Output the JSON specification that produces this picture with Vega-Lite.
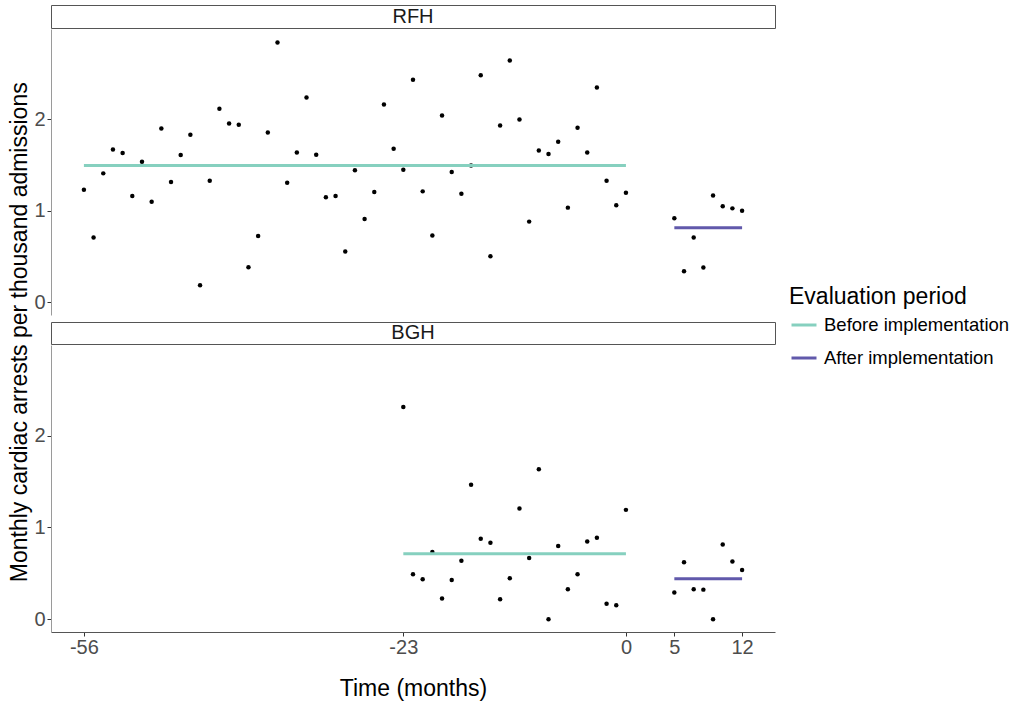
{
  "$schema": "https://vega.github.io/schema/vega-lite/v6.json",
  "padding": {"left": 8, "top": 4, "right": 5, "bottom": 5},
  "background": "white",
  "title": {"text": "Monthly cardiac arrests per thousand admissions", "orient": "left", "anchor": "middle", "frame": "bounds", "fontSize": 23, "fontWeight": "normal", "color": "black", "font": "Liberation Sans", "offset": 2, "dx": 20},
  "config": {
    "font": "Liberation Sans",
    "view": {"stroke": null},
    "axis": {"grid": false, "labelFont": "Liberation Sans", "titleFont": "Liberation Sans", "titleFontWeight": "normal", "titleColor": "black", "labelColor": "#4d4d4d", "tickColor": "#333333", "tickSize": 4, "labelFontSize": 20}
  },
  "datasets": {
    "points": [
      {"hospital": "RFH", "month": -56, "rate": 1.231},
      {"hospital": "RFH", "month": -55, "rate": 0.707},
      {"hospital": "RFH", "month": -54, "rate": 1.41},
      {"hospital": "RFH", "month": -53, "rate": 1.672},
      {"hospital": "RFH", "month": -52, "rate": 1.632},
      {"hospital": "RFH", "month": -51, "rate": 1.162},
      {"hospital": "RFH", "month": -50, "rate": 1.537},
      {"hospital": "RFH", "month": -49, "rate": 1.1},
      {"hospital": "RFH", "month": -48, "rate": 1.902},
      {"hospital": "RFH", "month": -47, "rate": 1.315},
      {"hospital": "RFH", "month": -46, "rate": 1.61},
      {"hospital": "RFH", "month": -45, "rate": 1.832},
      {"hospital": "RFH", "month": -44, "rate": 0.186},
      {"hospital": "RFH", "month": -43, "rate": 1.33},
      {"hospital": "RFH", "month": -42, "rate": 2.117},
      {"hospital": "RFH", "month": -41, "rate": 1.956},
      {"hospital": "RFH", "month": -40, "rate": 1.942},
      {"hospital": "RFH", "month": -39, "rate": 0.383},
      {"hospital": "RFH", "month": -38, "rate": 0.725},
      {"hospital": "RFH", "month": -37, "rate": 1.858},
      {"hospital": "RFH", "month": -36, "rate": 2.842},
      {"hospital": "RFH", "month": -35, "rate": 1.308},
      {"hospital": "RFH", "month": -34, "rate": 1.639},
      {"hospital": "RFH", "month": -33, "rate": 2.24},
      {"hospital": "RFH", "month": -32, "rate": 1.614},
      {"hospital": "RFH", "month": -31, "rate": 1.148},
      {"hospital": "RFH", "month": -30, "rate": 1.162},
      {"hospital": "RFH", "month": -29, "rate": 0.554},
      {"hospital": "RFH", "month": -28, "rate": 1.443},
      {"hospital": "RFH", "month": -27, "rate": 0.911},
      {"hospital": "RFH", "month": -26, "rate": 1.206},
      {"hospital": "RFH", "month": -25, "rate": 2.164},
      {"hospital": "RFH", "month": -24, "rate": 1.679},
      {"hospital": "RFH", "month": -23, "rate": 1.45},
      {"hospital": "RFH", "month": -22, "rate": 2.434},
      {"hospital": "RFH", "month": -21, "rate": 1.213},
      {"hospital": "RFH", "month": -20, "rate": 0.729},
      {"hospital": "RFH", "month": -19, "rate": 2.044},
      {"hospital": "RFH", "month": -18, "rate": 1.424},
      {"hospital": "RFH", "month": -17, "rate": 1.188},
      {"hospital": "RFH", "month": -16, "rate": 1.497},
      {"hospital": "RFH", "month": -15, "rate": 2.485},
      {"hospital": "RFH", "month": -14, "rate": 0.503},
      {"hospital": "RFH", "month": -13, "rate": 1.934},
      {"hospital": "RFH", "month": -12, "rate": 2.645},
      {"hospital": "RFH", "month": -11, "rate": 2.0},
      {"hospital": "RFH", "month": -10, "rate": 0.882},
      {"hospital": "RFH", "month": -9, "rate": 1.661},
      {"hospital": "RFH", "month": -8, "rate": 1.621},
      {"hospital": "RFH", "month": -7, "rate": 1.756},
      {"hospital": "RFH", "month": -6, "rate": 1.035},
      {"hospital": "RFH", "month": -5, "rate": 1.909},
      {"hospital": "RFH", "month": -4, "rate": 1.639},
      {"hospital": "RFH", "month": -3, "rate": 2.35},
      {"hospital": "RFH", "month": -2, "rate": 1.33},
      {"hospital": "RFH", "month": -1, "rate": 1.06},
      {"hospital": "RFH", "month": 0, "rate": 1.199},
      {"hospital": "RFH", "month": 5, "rate": 0.918},
      {"hospital": "RFH", "month": 6, "rate": 0.339},
      {"hospital": "RFH", "month": 7, "rate": 0.707},
      {"hospital": "RFH", "month": 8, "rate": 0.379},
      {"hospital": "RFH", "month": 9, "rate": 1.169},
      {"hospital": "RFH", "month": 10, "rate": 1.049},
      {"hospital": "RFH", "month": 11, "rate": 1.027},
      {"hospital": "RFH", "month": 12, "rate": 1.002},
      {"hospital": "BGH", "month": -23, "rate": 2.315},
      {"hospital": "BGH", "month": -22, "rate": 0.489},
      {"hospital": "BGH", "month": -21, "rate": 0.435},
      {"hospital": "BGH", "month": -20, "rate": 0.732},
      {"hospital": "BGH", "month": -19, "rate": 0.225},
      {"hospital": "BGH", "month": -18, "rate": 0.428},
      {"hospital": "BGH", "month": -17, "rate": 0.638},
      {"hospital": "BGH", "month": -16, "rate": 1.467},
      {"hospital": "BGH", "month": -15, "rate": 0.877},
      {"hospital": "BGH", "month": -14, "rate": 0.833},
      {"hospital": "BGH", "month": -13, "rate": 0.217},
      {"hospital": "BGH", "month": -12, "rate": 0.446},
      {"hospital": "BGH", "month": -11, "rate": 1.207},
      {"hospital": "BGH", "month": -10, "rate": 0.667},
      {"hospital": "BGH", "month": -9, "rate": 1.634},
      {"hospital": "BGH", "month": -8, "rate": 0.0},
      {"hospital": "BGH", "month": -7, "rate": 0.797},
      {"hospital": "BGH", "month": -6, "rate": 0.326},
      {"hospital": "BGH", "month": -5, "rate": 0.489},
      {"hospital": "BGH", "month": -4, "rate": 0.848},
      {"hospital": "BGH", "month": -3, "rate": 0.888},
      {"hospital": "BGH", "month": -2, "rate": 0.167},
      {"hospital": "BGH", "month": -1, "rate": 0.152},
      {"hospital": "BGH", "month": 0, "rate": 1.192},
      {"hospital": "BGH", "month": 5, "rate": 0.29},
      {"hospital": "BGH", "month": 6, "rate": 0.62},
      {"hospital": "BGH", "month": 7, "rate": 0.326},
      {"hospital": "BGH", "month": 8, "rate": 0.322},
      {"hospital": "BGH", "month": 9, "rate": 0.0},
      {"hospital": "BGH", "month": 10, "rate": 0.815},
      {"hospital": "BGH", "month": 11, "rate": 0.63},
      {"hospital": "BGH", "month": 12, "rate": 0.536}
    ],
    "means": [
      {"hospital": "RFH", "period": "Before implementation", "start": -56, "end": 0, "mean": 1.497},
      {"hospital": "RFH", "period": "After implementation", "start": 5, "end": 12, "mean": 0.816},
      {"hospital": "BGH", "period": "Before implementation", "start": -23, "end": 0, "mean": 0.714},
      {"hospital": "BGH", "period": "After implementation", "start": 5, "end": 12, "mean": 0.442}
    ],
    "strips": [
      {"hospital": "RFH"},
      {"hospital": "BGH"}
    ]
  },
  "spacing": 6,
  "vconcat": [
    {
      "spacing": 0,
      "vconcat": [
        {
          "width": 724,
          "height": 23,
          "view": {"stroke": "#555555", "strokeWidth": 1, "fill": "white"},
          "data": {"name": "strips"},
          "transform": [{"filter": "datum.hospital === 'RFH'"}],
          "mark": {"type": "text", "fontSize": 20, "color": "#1a1a1a", "align": "center", "baseline": "middle"},
          "encoding": {
            "x": {"field": "hospital", "type": "nominal", "axis": null},
            "y": {"field": "hospital", "type": "nominal", "axis": null},
            "text": {"field": "hospital"}
          }
        },
        {
          "width": 724,
          "height": 286,
          "layer": [
            {
              "data": {"name": "points"},
              "transform": [{"filter": "datum.hospital === 'RFH'"}],
              "mark": {"type": "circle", "size": 20, "color": "black", "opacity": 1},
              "encoding": {
                "x": {"field": "month", "type": "quantitative", "scale": {"domain": [-59.4, 15.4], "nice": false, "zero": false}, "axis": null},
                "y": {"field": "rate", "type": "quantitative", "scale": {"domain": [-0.14, 2.99], "nice": false, "zero": false}, "axis": {"values": [0, 1, 2], "format": "d", "title": null, "labelPadding": 2, "domainColor": "#9a9a9a"}}
              }
            },
            {
              "data": {"name": "means"},
              "transform": [{"filter": "datum.hospital === 'RFH'"}],
              "mark": {"type": "rule", "strokeWidth": 3},
              "encoding": {
                "x": {"field": "start", "type": "quantitative"},
                "x2": {"field": "end"},
                "y": {"field": "mean", "type": "quantitative"},
                "color": {"field": "period", "type": "nominal", "scale": {"domain": ["Before implementation", "After implementation"], "range": ["#86d0bf", "#6159ab"]}, "legend": {"title": "Evaluation period", "orient": "none", "legendX": 738, "legendY": 281, "titleFontSize": 23, "titleFontWeight": "normal", "titleColor": "black", "titlePadding": 2, "labelFontSize": 18.5, "labelColor": "black", "labelLimit": 400, "symbolType": "stroke", "symbolStrokeWidth": 3, "symbolSize": 625, "symbolOffset": 1, "labelOffset": 6, "rowPadding": 9, "padding": 0}}
              }
            }
          ]
        }
      ]
    },
    {
      "spacing": 0,
      "vconcat": [
        {
          "width": 724,
          "height": 22,
          "view": {"stroke": "#555555", "strokeWidth": 1, "fill": "white"},
          "data": {"name": "strips"},
          "transform": [{"filter": "datum.hospital === 'BGH'"}],
          "mark": {"type": "text", "fontSize": 20, "color": "#1a1a1a", "align": "center", "baseline": "middle"},
          "encoding": {
            "x": {"field": "hospital", "type": "nominal", "axis": null},
            "y": {"field": "hospital", "type": "nominal", "axis": null},
            "text": {"field": "hospital"}
          }
        },
        {
          "width": 724,
          "height": 287,
          "layer": [
            {
              "data": {"name": "points"},
              "transform": [{"filter": "datum.hospital === 'BGH'"}],
              "mark": {"type": "circle", "size": 20, "color": "black", "opacity": 1},
              "encoding": {
                "x": {"field": "month", "type": "quantitative", "scale": {"domain": [-59.4, 15.4], "nice": false, "zero": false}, "axis": {"values": [-56, -23, 0, 5, 12], "labelExpr": "'' + datum.value", "title": "Time (months)", "titleFontSize": 23, "titlePadding": 20, "labelPadding": 1, "domainColor": "#555555"}},
                "y": {"field": "rate", "type": "quantitative", "scale": {"domain": [-0.14, 2.99], "nice": false, "zero": false}, "axis": {"values": [0, 1, 2], "format": "d", "title": null, "labelPadding": 2, "domainColor": "#9a9a9a"}}
              }
            },
            {
              "data": {"name": "means"},
              "transform": [{"filter": "datum.hospital === 'BGH'"}],
              "mark": {"type": "rule", "strokeWidth": 3},
              "encoding": {
                "x": {"field": "start", "type": "quantitative"},
                "x2": {"field": "end"},
                "y": {"field": "mean", "type": "quantitative"},
                "color": {"field": "period", "type": "nominal", "scale": {"domain": ["Before implementation", "After implementation"], "range": ["#86d0bf", "#6159ab"]}}
              }
            }
          ]
        }
      ]
    }
  ]
}
